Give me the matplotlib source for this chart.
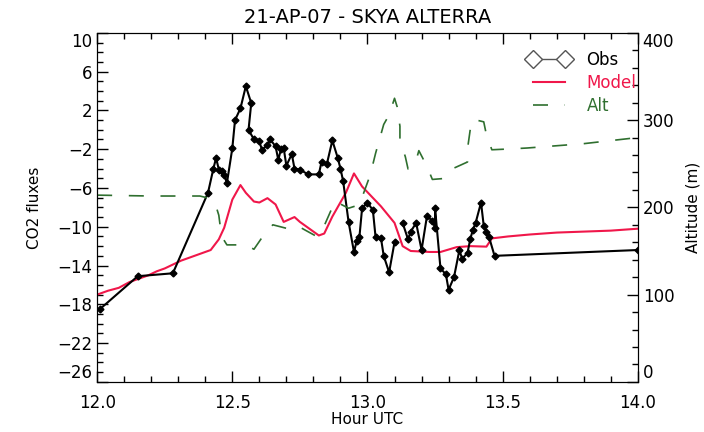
import numpy as np
import matplotlib
matplotlib.use("Agg")
import matplotlib.pyplot as plt
from matplotlib.lines import Line2D
from matplotlib.ticker import MultipleLocator

# ============================
# DATA
# ============================
obs_hour = [12.01, 12.15, 12.28, 12.41, 12.43, 12.44, 12.45, 12.46, 12.47, 12.48,
            12.50, 12.51, 12.53, 12.55, 12.57, 12.56, 12.58, 12.60, 12.61, 12.63,
            12.64, 12.66, 12.67, 12.68, 12.69, 12.70, 12.72, 12.73, 12.75, 12.78,
            12.82, 12.83, 12.85, 12.87, 12.89, 12.90, 12.91, 12.93, 12.95, 12.96,
            12.97, 12.98, 13.00, 13.02, 13.03, 13.05, 13.06, 13.08, 13.10, np.nan,
            13.13, 13.15, 13.16, 13.18, 13.20, 13.22, 13.24, 13.25, 13.25, 13.27,
            13.29, 13.30, 13.32, 13.34, 13.35, 13.37, 13.38, 13.39, 13.40, 13.42,
            13.43, 13.44, 13.45, 13.47, 14.0]
obs_co2 = [-18.5, -15.1, -14.8, -6.5, -4.0, -2.9, -4.1, -4.3, -4.65, -5.5,
           -1.9, 1.0, 2.2, 4.5, 2.75, 0.0, -1.0, -1.2, -2.1, -1.55,
           -1.0, -1.7, -3.1, -2.0, -1.9, -3.7, -2.5, -4.0, -4.1, -4.6,
           -4.6, -3.3, -3.5, -1.1, -2.9, -4.0, -5.3, -9.5, -12.6, -11.5,
           -11.1, -8.1, -7.5, -8.3, -11.1, -11.2, -13.0, -14.7, -11.6, np.nan,
           -9.6, -11.3, -10.5, -9.6, -12.4, -8.9, -9.4, -10.1, -8.1, -14.3,
           -14.9, -16.5, -15.2, -12.4, -13.3, -12.7, -11.3, -10.3, -9.6, -7.5,
           -9.9, -10.5, -11.1, -13.0, -12.4]

model_hour = [12.0, 12.04, 12.08, 12.12, 12.15, 12.19, 12.22, 12.25, 12.28, 12.31,
              12.34, 12.38, 12.42, 12.45, 12.47, 12.50, 12.53, 12.55, 12.58, 12.60,
              12.63, 12.66, 12.69, 12.73, 12.75, 12.79, 12.82, 12.84, 12.87, 12.92,
              12.95, 12.98, 13.05, 13.10, 13.13, 13.16, 13.23, 13.27, 13.33, 13.38,
              13.44, 13.46, 13.52, 13.60, 13.70, 13.80, 13.90, 14.0]
model_co2 = [-17.0, -16.6, -16.3, -15.7, -15.4, -15.0, -14.6, -14.3, -13.9, -13.5,
             -13.2, -12.8, -12.4, -11.3, -10.1, -7.2, -5.7, -6.5, -7.4, -7.5,
             -7.05, -7.7, -9.5, -9.0, -9.5, -10.3, -10.9, -10.7, -8.95, -6.5,
             -4.5, -5.85, -7.9, -9.6, -12.0, -12.5, -12.6, -12.6, -12.1, -12.0,
             -12.05, -11.2, -11.0, -10.8, -10.6, -10.5, -10.4, -10.2]

alt_hour = [12.0, 12.20, 12.38, 12.42, 12.44, 12.45, 12.46, 12.48, 12.55, 12.58,
            12.62, 12.65, 12.70, 12.74, 12.81, 12.83, 12.86, 12.88, 12.93, 12.97,
            12.99, 13.01, 13.03, 13.06, 13.08, 13.10, 13.11, 13.12, 13.12, 13.14,
            13.15, 13.18, 13.19, 13.22, 13.24, 13.28, 13.32, 13.37, 13.37, 13.38,
            13.39, 13.43, 13.44, 13.46, 13.53, 13.59, 13.80, 14.0]
alt_m = [214, 213, 213, 210, 201, 191, 167, 157, 157, 152,
         170, 180, 176, 179, 167, 172, 193, 207, 199, 203,
         220, 237, 262, 295, 306, 325, 315, 293, 277, 258,
         244, 254, 265, 247, 232, 233, 245, 252, 267, 289,
         301, 298, 283, 266, 267, 268, 273, 280]

red = '#f0174a'
green = '#2f6f2f'


def pin_end_labels(axis):
    # keep the first and last tick labels inside the frame, like the original
    labels = axis.get_ticklabels()
    labels[0].set_va('bottom')
    labels[-1].set_va('top')


# ============================
# PLOT
# ============================
plt.rcParams['font.family'] = ['DejaVu Sans']

fig = plt.figure(figsize=(7.04, 4.32), dpi=100)
ax = fig.add_axes([0.138, 0.116, 0.768, 0.808])

ax.plot(obs_hour, obs_co2, color='black', lw=1.5, marker='D', ms=3.5,
        markerfacecolor='black', markeredgecolor='black', zorder=3)
ax.plot(model_hour, model_co2, color=red, lw=1.5, zorder=2)

ax.set_xlim(12.0, 14.0)
ax.set_ylim(-26, 10)
ax.xaxis.set_minor_locator(MultipleLocator(0.1))
ax.yaxis.set_minor_locator(MultipleLocator(1))
ax.set_xticks(np.arange(12.0, 14.01, 0.5))
ax.set_xticklabels(['12.0', '12.5', '13.0', '13.5', '14.0'])
ax.set_yticks(np.arange(-26, 11, 4))
ax.tick_params(which='both', direction='in', top=True, right=False, labelsize=12)
ax.tick_params(which='major', length=8, width=1)
ax.tick_params(which='minor', length=4, width=1)
ax.tick_params(axis='x', pad=9)
ax.set_xlabel('Hour UTC', fontsize=11, labelpad=0)
ax.set_ylabel('CO2 fluxes', fontsize=11, labelpad=11)
ax.set_title('21-AP-07 - SKYA ALTERRA', fontsize=14, pad=7)
pin_end_labels(ax.yaxis)

ax2 = ax.twinx()
alt_line, = ax2.plot(alt_hour, alt_m, color=green, lw=1.2)
alt_line.set_dashes((9, 10))
ax2.set_ylim(0, 400)
ax2.set_yticks([0, 100, 200, 300, 400])
ax2.yaxis.set_minor_locator(MultipleLocator(20))
ax2.tick_params(which='both', direction='in', labelsize=12)
ax2.tick_params(which='major', length=8, width=1)
ax2.tick_params(which='minor', length=4, width=1)
ax2.set_ylabel('Altitude (m)', fontsize=11, labelpad=8)
pin_end_labels(ax2.yaxis)

# legend
h_obs = Line2D([], [], color='#555555', lw=1, marker='D', ms=9,
               markerfacecolor='white', markeredgecolor='#555555', markeredgewidth=1)
h_mod = Line2D([], [], color=red, lw=1.5)
h_alt = Line2D([], [], color=green, lw=1.2, dashes=(9, 10))
ax2.legend([h_obs, h_mod, h_alt], ['Obs', 'Model', 'Alt'], loc='upper right',
           bbox_to_anchor=(1.025, 0.99), frameon=False, fontsize=12, numpoints=2,
           handlelength=2.5, handletextpad=1.0, labelspacing=0.3,
           labelcolor=['black', red, green])

fig.savefig('out.png', dpi=100)
